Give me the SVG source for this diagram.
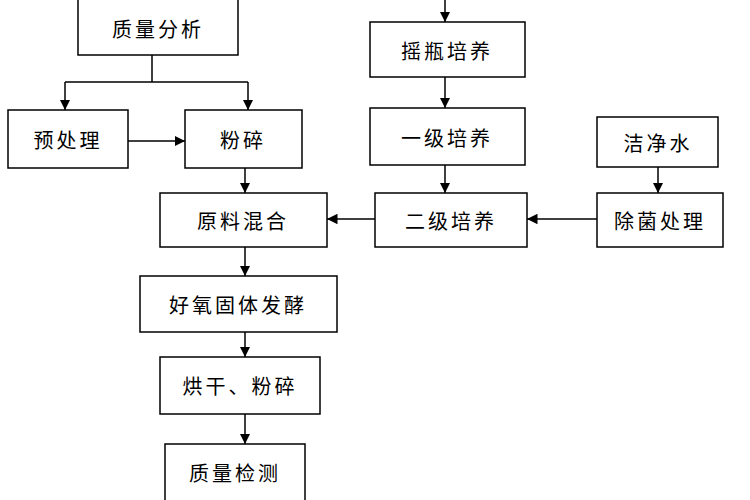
<svg xmlns="http://www.w3.org/2000/svg" width="750" height="500" viewBox="0 0 750 500">
<style>
rect{fill:#fff;stroke:#000;stroke-width:1.5}
text{font-family:"Noto Sans CJK SC",sans-serif;font-size:20px;text-anchor:middle;dominant-baseline:central;letter-spacing:3px}
.c{stroke:#000;stroke-width:1.5;fill:none}
</style>
<defs><marker id="a" viewBox="0 0 10 10" refX="10" refY="5" markerWidth="7" markerHeight="7" orient="auto"><path d="M0,0L10,5L0,10z"/></marker></defs>
<rect x="0" y="0" width="750" height="500" style="stroke:none"/>
<g id="connectors">
<path class="c" d="M152,55V82M65,82H248"/>
<path class="c" d="M65,82V110" marker-end="url(#a)"/>
<path class="c" d="M248,82V110" marker-end="url(#a)"/>
<path class="c" d="M128,141H185" marker-end="url(#a)"/>
<path class="c" d="M245,168V193" marker-end="url(#a)"/>
<path class="c" d="M445,0V22" marker-end="url(#a)"/>
<path class="c" d="M445,77V108" marker-end="url(#a)"/>
<path class="c" d="M445,165V193" marker-end="url(#a)"/>
<path class="c" d="M658,167V193" marker-end="url(#a)"/>
<path class="c" d="M597,219H527" marker-end="url(#a)"/>
<path class="c" d="M375,219H327" marker-end="url(#a)"/>
<path class="c" d="M245,247V276" marker-end="url(#a)"/>
<path class="c" d="M245,332V357" marker-end="url(#a)"/>
<path class="c" d="M245,414V444" marker-end="url(#a)"/>
</g>
<g id="n1"><rect x="78" y="-2" width="160" height="57"/><text x="158" y="28">质量分析</text></g>
<g id="n2"><rect x="8" y="110" width="120" height="58"/><text x="68" y="139">预处理</text></g>
<g id="n3"><rect x="185" y="110" width="117" height="58"/><text x="243" y="139">粉碎</text></g>
<g id="n4"><rect x="160" y="193" width="167" height="54"/><text x="243" y="220">原料混合</text></g>
<g id="n5"><rect x="370" y="22" width="155" height="55"/><text x="447" y="50">摇瓶培养</text></g>
<g id="n6"><rect x="370" y="108" width="155" height="57"/><text x="447" y="137">一级培养</text></g>
<g id="n7"><rect x="375" y="193" width="152" height="54"/><text x="451" y="220">二级培养</text></g>
<g id="n8"><rect x="597" y="117" width="121" height="50"/><text x="658" y="142">洁净水</text></g>
<g id="n9"><rect x="597" y="193" width="126" height="54"/><text x="660" y="220">除菌处理</text></g>
<g id="n10"><rect x="140" y="276" width="197" height="56"/><text x="238" y="304">好氧固体发酵</text></g>
<g id="n11"><rect x="160" y="357" width="160" height="57"/><text x="240" y="385">烘干、粉碎</text></g>
<g id="n12"><rect x="165" y="444" width="140" height="58"/><text x="235" y="472">质量检测</text></g>
</svg>
